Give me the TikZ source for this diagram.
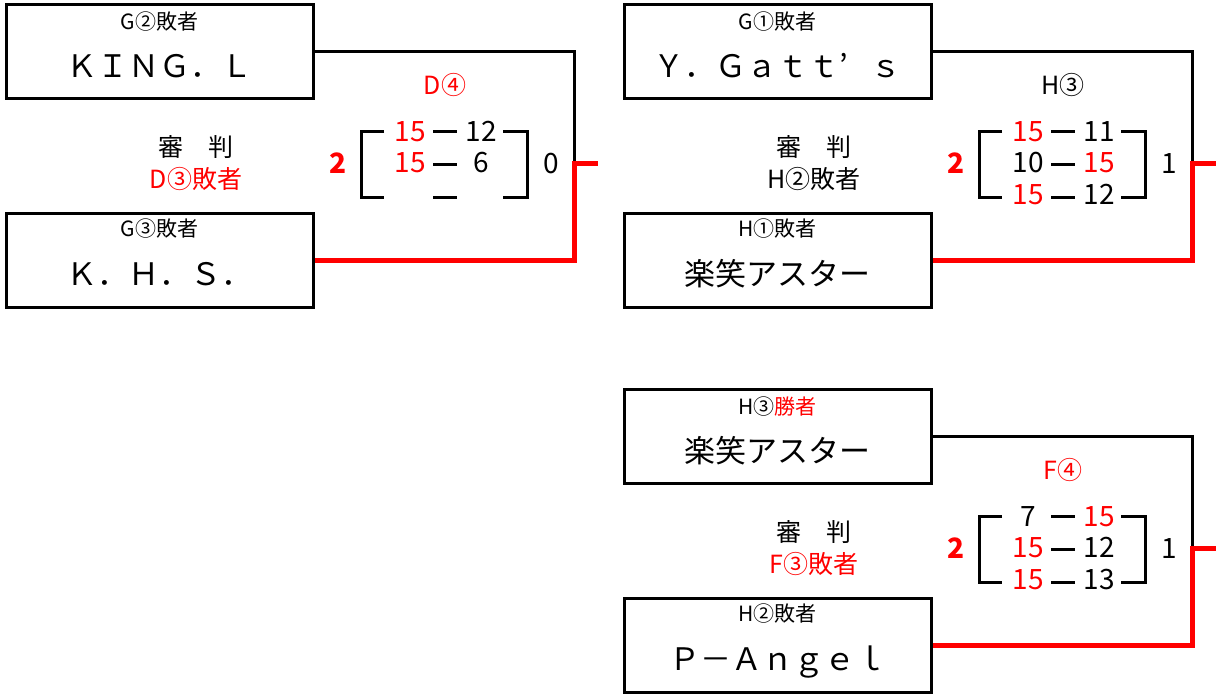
\documentclass[tikz,border=0pt]{standalone}
\usepackage{fontspec}
\setmainfont{Noto Sans CJK JP}

\begin{document}
\begin{tikzpicture}[x=1pt,y=-1pt,
  teambox/.style={draw,line width=3pt,minimum width=307pt,minimum height=94pt,inner sep=0pt},
  hdr/.style={font=\fontsize{21}{21}\selectfont,inner sep=0pt,anchor=base},
  team/.style={font=\fontsize{31}{31}\selectfont,inner sep=0pt,anchor=base},
  refname/.style={font=\fontsize{25}{25}\selectfont,inner sep=0pt,anchor=base},
  pts/.style={font=\fontsize{28}{28}\selectfont,inner sep=0pt,anchor=base},
  tot/.style={font=\fontsize{28}{28}\selectfont\bfseries,inner sep=0pt,anchor=base,red},
  lose/.style={line width=3pt},
  adv/.style={red,line width=5pt},
  brk/.style={line width=3pt}]
\useasboundingbox (0,0) rectangle (1216,696);

% D4
\node[teambox] (dA) at (159.5,51.5) {};
\node[hdr] (dAh) at (159.5,29) {G②敗者};
\node[team] (dAn) at (159.5,77) {ＫＩＮＧ．Ｌ};
\node[teambox] (dB) at (159.5,260) {};
\node[hdr] (dBh) at (159.5,236) {G③敗者};
\node[team] (dBn) at (159.5,285) {Ｋ．Ｈ．Ｓ．};
\coordinate (dj) at (574,163);
\coordinate (dout) at (598,163);
\draw[lose] (dA.east) -| (dj);
\draw[adv] (dB.east) -| (dj) -- (dout);
\node[refname,red] (dm) at (445,94) {D④};
\node[refname] (dr) at (196,156) {審　判};
\node[refname,red] (drw) at (196,188) {D③敗者};
\draw[brk] (384,131) -- (361,131) -- (361,197) -- (384,197);
\draw[brk] (503,131) -- (527,131) -- (527,197) -- (503,197);
\foreach \y in {131,164,197} \draw[brk] (433,\y) -- (457,\y);
\node[pts,red] (d1a) at (410,141) {15};
\node[pts] (d1b) at (481,141) {12};
\node[pts,red] (d2a) at (410,172.5) {15};
\node[pts] (d2b) at (481,172.5) {6};
\node[tot] (dl) at (338,173) {2};
\node[pts] (dr2) at (551,173) {0};

% H3
\begin{scope}[shift={(618,0)}]
\node[teambox] (hA) at (159.5,51.5) {};
\node[hdr] (hAh) at (159.5,29) {G①敗者};
\node[team] (hAn) at (159.5,77) {Ｙ．Ｇａｔｔ\makebox[1em][l]{’}ｓ};
\node[teambox] (hB) at (159.5,260) {};
\node[hdr] (hBh) at (159.5,236) {H①敗者};
\node[team] (hBn) at (159.5,285) {楽笑アスター};
\coordinate (hj) at (574,163);
\coordinate (hout) at (598,163);
\draw[lose] (hA.east) -| (hj);
\draw[adv] (hB.east) -| (hj) -- (hout);
\node[refname] (hm) at (445,94) {H③};
\node[refname] (hr) at (196,156) {審　判};
\node[refname] (hrw) at (196,188) {H②敗者};
\draw[brk] (384,131) -- (361,131) -- (361,197) -- (384,197);
\draw[brk] (503,131) -- (527,131) -- (527,197) -- (503,197);
\foreach \y in {131,164,197} \draw[brk] (433,\y) -- (457,\y);
\node[pts,red] (h1a) at (410,141) {15};
\node[pts] (h1b) at (481,141) {11};
\node[pts] (h2a) at (410,172.5) {10};
\node[pts,red] (h2b) at (481,172.5) {15};
\node[pts,red] (h3a) at (410,204) {15};
\node[pts] (h3b) at (481,204) {12};
\node[tot] (hl) at (338,173) {2};
\node[pts] (hr2) at (551,173) {1};
\end{scope}

% F4
\begin{scope}[shift={(618,385)}]
\node[teambox] (fA) at (159.5,51.5) {};
\node[hdr] (fAh) at (159.5,29) {H③\textcolor{red}{勝者}};
\node[team] (fAn) at (159.5,77) {楽笑アスター};
\node[teambox] (fB) at (159.5,260) {};
\node[hdr] (fBh) at (159.5,236) {H②敗者};
\node[team] (fBn) at (159.5,285) {Ｐ－Ａｎｇｅｌ};
\coordinate (fj) at (574,163);
\coordinate (fout) at (598,163);
\draw[lose] (fA.east) -| (fj);
\draw[adv] (fB.east) -| (fj) -- (fout);
\node[refname,red] (fm) at (445,94) {F④};
\node[refname] (fr) at (196,156) {審　判};
\node[refname,red] (frw) at (196,188) {F③敗者};
\draw[brk] (384,131) -- (361,131) -- (361,197) -- (384,197);
\draw[brk] (503,131) -- (527,131) -- (527,197) -- (503,197);
\foreach \y in {131,164,197} \draw[brk] (433,\y) -- (457,\y);
\node[pts] (f1a) at (410,141) {7};
\node[pts,red] (f1b) at (481,141) {15};
\node[pts,red] (f2a) at (410,172.5) {15};
\node[pts] (f2b) at (481,172.5) {12};
\node[pts,red] (f3a) at (410,204) {15};
\node[pts] (f3b) at (481,204) {13};
\node[tot] (fl) at (338,173) {2};
\node[pts] (fr2) at (551,173) {1};
\end{scope}
\end{tikzpicture}
\end{document}
